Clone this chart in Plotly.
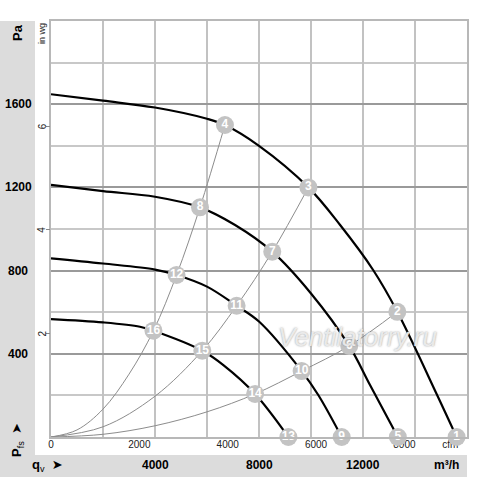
import plotly.graph_objects as go

# Fan curves: flow qv (m3/h) and static pressure Pfs (Pa)
q_curve1 = [0, 2000, 4000, 6000, 6690, 8000, 9900, 11120, 12390, 13320, 14850, 15600]
p_curve1 = [1648, 1617, 1584, 1530, 1500, 1400, 1200, 1019, 803, 602, 202, 0]
q_curve2 = [0, 2000, 4000, 5730, 7080, 8510, 10000, 11470, 12270, 13340]
p_curve2 = [1212, 1182, 1155, 1104, 1019, 891, 690, 438, 250, 0]
q_curve3 = [0, 2000, 4000, 4830, 6000, 7140, 8000, 9640, 10280, 11180]
p_curve3 = [859, 834, 805, 779, 723, 631, 555, 317, 202, 0]
q_curve4 = [0, 2000, 3420, 3940, 5820, 6630, 7850, 9130]
p_curve4 = [567, 551, 530, 511, 415, 346, 207, 0]

# System (resistance) lines through the numbered points
q_sys_a = [0, 1000, 2000, 3000, 3940, 4830, 5730, 6690]
p_sys_a = [0, 34, 134, 302, 511, 779, 1104, 1500]
q_sys_b = [0, 2000, 4000, 5820, 7140, 8510, 9900]
p_sys_b = [0, 49, 196, 415, 631, 891, 1200]
q_sys_c = [0, 2000, 4000, 6000, 7850, 9640, 11470, 13320]
p_sys_c = [0, 13, 54, 121, 207, 317, 438, 602]

# Numbered operating points
point_ids = [str(i) for i in range(1, 17)]
point_q = [15600, 13320, 9900, 6690, 13340, 11470, 8510, 5730,
           11180, 9640, 7140, 4830, 9130, 7850, 5820, 3940]
point_p = [0, 602, 1200, 1500, 0, 438, 891, 1104,
           0, 317, 631, 779, 0, 207, 415, 511]

# Tick labels
pa_ticks = [400, 800, 1200, 1600]
flow_ticks = [4000, 8000, 12000]
inwg_ticks = [2, 4, 6]
cfm_ticks = [0, 2000, 4000, 6000, 8000]

W, H = 500, 477
L, R, T, B = 51, 33, 21, 40
PW, PH = W - L - R, H - T - B
FONT = "Liberation Sans, Arial, DejaVu Sans, sans-serif"


def px(x):
    return (x - L) / PW


def py(y):
    return (H - B - y) / PH


def label(x, y, text, xref='paper', yref='paper', size=12, angle=0, color='black', xanchor='center'):
    return dict(x=x, y=y, xref=xref, yref=yref, text=text, textangle=angle, showarrow=False,
                xanchor=xanchor, yanchor='middle',
                font=dict(size=size, family=FONT, color=color))


fig = go.Figure()

for qs, ps in [(q_sys_a, p_sys_a), (q_sys_b, p_sys_b), (q_sys_c, p_sys_c)]:
    fig.add_trace(go.Scatter(x=qs, y=ps, mode='lines', showlegend=False, hoverinfo='skip',
                             line=dict(color='#8c8c8c', width=1, shape='spline', smoothing=1)))

for qs, ps in [(q_curve1, p_curve1), (q_curve2, p_curve2), (q_curve3, p_curve3), (q_curve4, p_curve4)]:
    fig.add_trace(go.Scatter(x=qs, y=ps, mode='lines', showlegend=False, hoverinfo='skip',
                             line=dict(color='black', width=2.2, shape='spline', smoothing=1)))

fig.add_trace(go.Scatter(x=point_q, y=point_p, mode='markers+text', text=point_ids,
                         textposition='middle center', showlegend=False, cliponaxis=False,
                         marker=dict(size=18, color='#c3c3c3'),
                         textfont=dict(color='white', size=12, family=FONT, weight='bold')))

# invisible trace so the secondary axes get drawn
fig.add_trace(go.Scatter(x=[0], y=[0], xaxis='x2', yaxis='y2', mode='markers',
                         marker=dict(opacity=0), showlegend=False, hoverinfo='skip'))

annotations = [label(px(17), py(33), '<b>Pa</b>', size=13, angle=-90)]
for v in pa_ticks:
    annotations.append(label(px(18), v, '<b>%d</b>' % v, yref='y'))
annotations.append(label(px(17), py(440), '<b>P</b><sub>fs</sub>  <b>➤</b>', size=13, angle=-90))
annotations.append(label(px(47), py(465), '<b>q</b><sub>v</sub>  <b>➤</b>', size=13))
for v in flow_ticks:
    annotations.append(label(v, py(465), '<b>%d</b>' % v, xref='x'))
annotations.append(label(px(461), py(465), '<b>m³/h</b>', xanchor='right'))
annotations.append(label(px(42), py(34), 'in wg', size=9, angle=-90, color='#222'))
for v in inwg_ticks:
    annotations.append(label(px(42), v, str(v), yref='y2', size=10, angle=-90, color='#222'))
annotations.append(dict(x=px(357), y=py(337), xref='paper', yref='paper', text='<i>Ventilatorry.ru</i>',
                        showarrow=False, xanchor='center', yanchor='middle',
                        font=dict(size=26, family=FONT, color='rgba(242,242,242,0.9)',
                                  shadow='0px 0px 2px #8a8a8a')))

shapes = [
    dict(type='rect', xref='paper', yref='paper', x0=px(0), x1=px(35), y0=py(477), y1=py(21),
         fillcolor='#dcdcdc', line=dict(width=0), layer='below'),
    dict(type='rect', xref='paper', yref='paper', x0=px(0), x1=px(467), y0=py(477), y1=py(455),
         fillcolor='#dcdcdc', line=dict(width=0), layer='below'),
]

fig.update_layout(
    width=W, height=H,
    margin=dict(l=L, r=R, t=T, b=B),
    paper_bgcolor='white', plot_bgcolor='white',
    showlegend=False,
    xaxis=dict(range=[0, 16000], dtick=2000, showgrid=True, gridcolor='#c2c2c2', gridwidth=1.5,
               showticklabels=False, ticks='', zeroline=False,
               showline=True, mirror=True, linecolor='#b8b8b8', linewidth=1.5),
    yaxis=dict(range=[0, 2000], dtick=400, showgrid=True, gridcolor='#9a9a9a', gridwidth=1.5,
               minor=dict(dtick=200, showgrid=True, gridcolor='#c8c8c8', gridwidth=1.5),
               showticklabels=False, ticks='', zeroline=False,
               showline=True, mirror=True, linecolor='#b8b8b8', linewidth=1.5),
    xaxis2=dict(range=[0, 16000 / 1.699], overlaying='x', anchor='y', side='bottom',
                tickvals=cfm_ticks + [9040], ticktext=[str(v) for v in cfm_ticks] + ['cfm'],
                ticks='', showgrid=False, zeroline=False, showline=False, layer='below traces',
                tickfont=dict(size=10, family=FONT, color='#222')),
    yaxis2=dict(range=[0, 2000 / 249.09], overlaying='y', anchor='x', side='left',
                tickvals=inwg_ticks, ticks='outside', ticklen=4, tickcolor='#888', tickwidth=1,
                showticklabels=False, showgrid=False, zeroline=False, showline=False),
    annotations=annotations,
    shapes=shapes,
)

fig.write_html("out.html", config={'displayModeBar': False},
               post_script="document.body.style.margin='0px';")
